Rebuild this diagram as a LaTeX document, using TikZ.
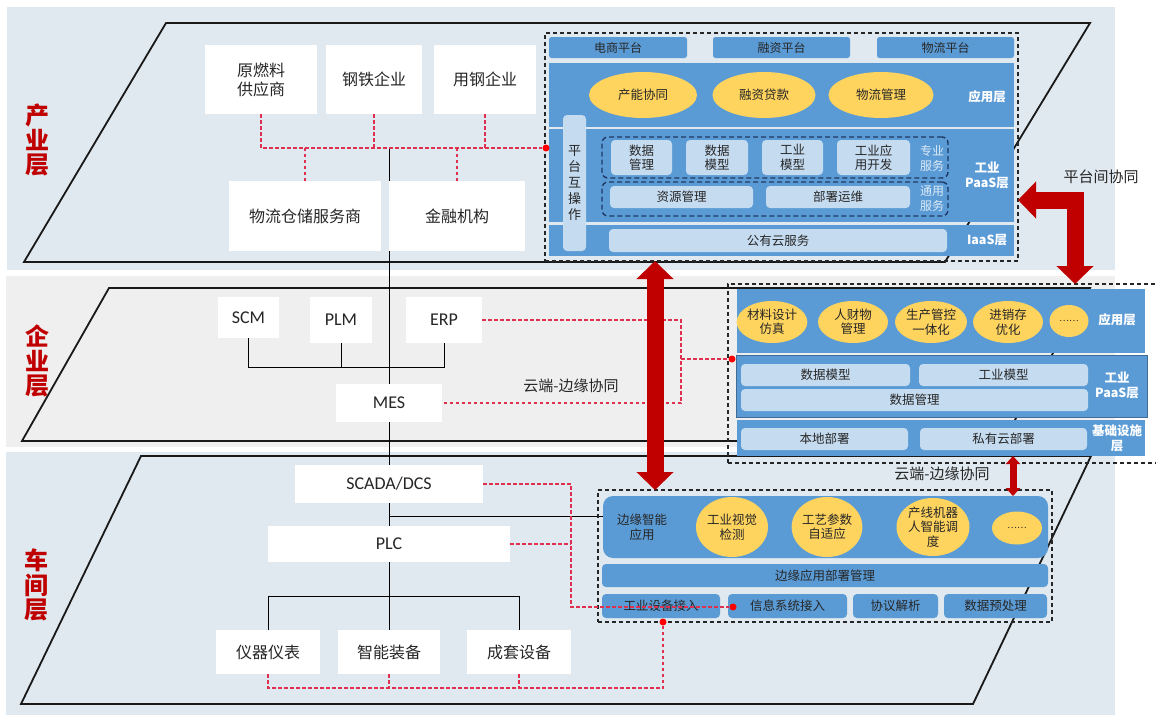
\documentclass[tikz,border=0pt]{standalone}
\usepackage{fontspec}
\setmainfont{Noto Sans CJK SC}
\newfontfamily\lat{Carlito}
\usetikzlibrary{arrows.meta,calc,shapes.geometric}
\pgfdeclarelayer{bgl}
\pgfdeclarelayer{lines}
\pgfsetlayers{bgl,lines,main}
\definecolor{bandblue}{HTML}{DFE9EF}
\definecolor{bandgray}{HTML}{EFEFEF}
\definecolor{pblue}{HTML}{5B9BD5}
\definecolor{lblue}{HTML}{C5DBF0}
\definecolor{ygold}{HTML}{FFD45E}
\definecolor{dred}{HTML}{C00000}
\definecolor{rdc}{HTML}{E03050}
\definecolor{navy}{HTML}{1F3864}
\definecolor{txt}{HTML}{262626}
\definecolor{svct}{HTML}{DDEBF7}
\newcommand\rbox[7]{\node[#6, minimum width={#4-#2}, minimum height={#5-#3}] (#1) at ({(#2+#4)/2},{(#3+#5)/2}) {#7};}
\tikzset{
  wbox/.style={fill=white, inner sep=0pt, outer sep=0pt, text=txt, align=center, font=\fontsize{16}{19}\selectfont},
  lbox/.style={wbox, font=\lat\fontsize{18}{20}\selectfont},
  tab/.style={fill=pblue, rounded corners=2.5, inner sep=0pt, outer sep=0pt, text=txt, font=\fontsize{12}{14}\selectfont},
  band/.style={fill=pblue, inner sep=0pt, outer sep=0pt, text=txt, align=center, font=\fontsize{12.5}{15}\selectfont},
  ell/.style={ellipse, fill=ygold, inner sep=0pt, outer sep=0pt, text=txt, align=center, font=\fontsize{12.5}{14.5}\selectfont},
  ibox/.style={fill=lblue, rounded corners=4, inner sep=0pt, outer sep=0pt, text=txt, align=center, font=\fontsize{12.5}{14.5}\selectfont},
  pillst/.style={ibox, font=\fontsize{13}{16}\selectfont},
  idash/.style={draw=navy, line width=1.4pt, dash pattern=on 5pt off 3pt, rounded corners=6, inner sep=0pt},
  dbox/.style={draw=black!85, line width=1.1pt, dash pattern=on 4pt off 3pt, inner sep=0pt, outer sep=0pt},
  lay/.style={text=white, align=center, font=\bfseries\fontsize{12.5}{15}\selectfont},
  svc/.style={text=svct, align=center, font=\fontsize{12}{15}\selectfont},
  ptxt/.style={text=txt, align=center, font=\fontsize{12.5}{15}\selectfont},
  laylab/.style={text=dred, align=center, font=\bfseries\fontsize{24}{24.5}\selectfont},
  note/.style={text=txt, font=\fontsize{15}{18}\selectfont},
  dot/.style={circle, fill=red, inner sep=0pt, minimum size=7pt},
  bl/.style={draw=black, line width=1pt},
  rd/.style={draw=rdc, line width=1.2pt, dash pattern=on 3.5pt off 2.5pt},
  par/.style={draw=black!90, line width=1.8pt},
  bigarr/.style={draw=dred, line width=17pt, {Triangle[width=36pt,length=18pt]}-{Triangle[width=36pt,length=18pt]}},
  smarr/.style={draw=dred, line width=7pt, {Triangle[width=14pt,length=8pt]}-{Triangle[width=14pt,length=8pt]}}
}
\begin{document}
\begin{tikzpicture}[x=1pt,y=-1pt]
\useasboundingbox (0,0) rectangle (1156,715);
\begin{pgfonlayer}{bgl}
  \fill[white] (0,0) rectangle (1156,715);
  \fill[bandblue] (7,7) rectangle (1115,270);
  \fill[bandgray] (6,276) rectangle (1115,447);
  \fill[bandblue] (6,452) rectangle (1115,715);
  \draw[par] (24,262) -- (166,23) -- (1090,23) -- (945,262) -- cycle;
  \draw[par] (22,441) -- (109,288) -- (1090,288) -- (1003,441) -- cycle;
  \draw[par] (21,704) -- (141,456) -- (1091,456) -- (973,704) -- cycle;
\end{pgfonlayer}

% layer labels
\node[laylab] (L1) at (37,140) {产\\业\\层};
\node[laylab] (L2) at (37,361) {企\\业\\层};
\node[laylab] (L3) at (36,585) {车\\间\\层};

% industry layer boxes
\rbox{ry}{205}{45}{317}{114}{wbox}{原燃料\\供应商}
\rbox{gt}{326}{45}{422}{114}{wbox}{钢铁企业}
\rbox{yg}{434}{45}{536}{114}{wbox}{用钢企业}
\rbox{wl}{229}{181}{381}{251}{wbox}{物流仓储服务商}
\rbox{jr}{389}{181}{525}{251}{wbox}{金融机构}

% enterprise layer boxes
\rbox{scm}{218}{297}{279}{338}{lbox}{SCM}
\rbox{plm}{310}{297}{372}{343}{lbox}{PLM}
\rbox{erp}{406}{297}{482}{343}{lbox}{ERP}
\rbox{mes}{336}{384}{442}{422}{lbox}{MES}

% workshop layer boxes
\rbox{scada}{295}{465}{483}{503}{lbox}{SCADA/DCS}
\rbox{plc}{268}{526}{510}{562}{lbox}{PLC}
\rbox{yq}{216}{630}{320}{674}{wbox}{仪器仪表}
\rbox{zn}{338}{630}{440}{674}{wbox}{智能装备}
\rbox{ct}{467}{630}{571}{674}{wbox}{成套设备}

% ===== top platform =====
\rbox{P1}{545}{33}{1018}{261}{dbox}{}
\rbox{t1}{549}{37}{687}{58}{tab}{电商平台}
\rbox{t2}{713}{37}{850}{58}{tab}{融资平台}
\rbox{t3}{877}{37}{1014}{58}{tab}{物流平台}
\rbox{b1}{549}{63}{1014}{127}{band}{}
\rbox{b2}{549}{129}{1014}{222}{band}{}
\rbox{b3}{549}{225}{1014}{256}{band}{}
\node[ell, minimum width=108, minimum height=46] (e1) at (643,95) {产能协同};
\node[ell, minimum width=103, minimum height=46] (e2) at (764,95) {融资贷款};
\node[ell, minimum width=105, minimum height=46] (e3) at (881,95) {物流管理};
\node[lay] (l1) at (987,97) {应用层};
\node[lay] (l2) at (987,175) {工业\\PaaS层};
\node[lay] (l3) at (987,240) {IaaS层};
\rbox{pill}{563}{115}{586}{251}{pillst}{平\\台\\互\\操\\作}
\rbox{zy}{602}{137}{948}{178}{idash}{}
\rbox{ty}{602}{182}{948}{216}{idash}{}
\rbox{s1}{611}{140}{672}{175}{ibox}{数据\\管理}
\rbox{s2}{686}{140}{748}{175}{ibox}{数据\\模型}
\rbox{s3}{762}{140}{823}{175}{ibox}{工业\\模型}
\rbox{s4}{837}{140}{910}{175}{ibox}{工业应\\用开发}
\rbox{s5}{610}{186}{753}{208}{ibox}{资源管理}
\rbox{s6}{766}{186}{910}{208}{ibox}{部署运维}
\node[svc] (v1) at (932,158) {专业\\服务};
\node[svc] (v2) at (932,199) {通用\\服务};
\rbox{s7}{609}{229}{947}{252}{ibox}{公有云服务}

% ===== middle platform =====
\rbox{P2}{728}{284}{1160}{463}{dbox}{}
\rbox{m1}{737}{289}{1145}{353}{band}{}
\rbox{m2}{736}{355}{1147}{417}{band, draw=pblue!70!black, line width=0.8pt}{}
\rbox{m3}{737}{420}{1145}{456}{band}{}
\node[ell, minimum width=60, minimum height=42] (f1) at (772,322) {材料设计\\仿真};
\node[ell, minimum width=70, minimum height=42] (f2) at (853,322) {人财物\\管理};
\node[ell, minimum width=72, minimum height=42] (f3) at (931,322) {生产管控\\一体化};
\node[ell, minimum width=70, minimum height=42] (f4) at (1008,322) {进销存\\优化};
\node[ell, minimum width=39, minimum height=32] (f5) at (1069,321) {\fontsize{9}{10}\selectfont ……};
\node[lay] (n1) at (1117,320) {应用层};
\node[lay] (n2) at (1117,385) {工业\\PaaS层};
\node[lay] (n3) at (1117,438) {基础设施\\层};
\rbox{mb1}{741}{364}{910}{386}{ibox}{数据模型}
\rbox{mb2}{919}{364}{1088}{386}{ibox}{工业模型}
\rbox{mb3}{741}{389}{1088}{411}{ibox}{数据管理}
\rbox{mb4}{741}{428}{908}{450}{ibox}{本地部署}
\rbox{mb5}{920}{428}{1087}{450}{ibox}{私有云部署}

% ===== bottom platform =====
\rbox{P3}{598}{490}{1052}{622}{dbox}{}
\rbox{eapp}{603}{496}{1048}{558}{band, rounded corners=10}{}
\node[ptxt] (etx) at (642,527) {边缘智能\\应用};
\node[ell, minimum width=72, minimum height=60] (g1) at (732,527) {工业视觉\\检测};
\node[ell, minimum width=68, minimum height=60] (g2) at (827,527) {工艺参数\\自适应};
\node[ell, minimum width=73, minimum height=58] (g3) at (933,527) {产线机器\\人智能调\\度};
\node[ell, minimum width=50, minimum height=33] (g4) at (1017,528) {\fontsize{9}{10}\selectfont ……};
\rbox{edm}{602}{564}{1048}{587}{band, rounded corners=4}{边缘应用部署管理}
\rbox{c1}{602}{594}{720}{618}{band, rounded corners=4}{工业设备接入}
\rbox{c2}{728}{594}{847}{618}{band, rounded corners=4}{信息系统接入}
\rbox{c3}{853}{594}{938}{618}{band, rounded corners=4}{协议解析}
\rbox{c4}{944}{594}{1047}{618}{band, rounded corners=4}{数据预处理}

% ===== black connectors (behind boxes) =====
\begin{pgfonlayer}{lines}
  \coordinate (topv) at (389,149);
  \draw[bl] (topv) -- (topv |- zn.north);
  \coordinate (tre) at (0,367);
  \draw[bl] (scm.south) |- (erp.south |- tre) -- (erp.south);
  \draw[bl] (plm.south) -- (plm.south |- tre);
  \coordinate (trb) at (0,596);
  \draw[bl] (yq.north) |- (ct.north |- trb) -- (ct.north);
  \coordinate (hb) at (389,516);
  \draw[bl] (hb) -- (hb -| eapp.west);
\end{pgfonlayer}

% ===== red dashed connectors =====
\node[dot] (dT) at (546,148) {};
\draw[rd] (ry.south) |- (dT);
\draw[rd] (gt.south) -- (gt.south |- dT);
\draw[rd] (yg.south) -- (yg.south |- dT);
\draw[rd] (wl.north) -- (wl.north |- dT);
\draw[rd] (jr.north) -- (jr.north |- dT);

\node[dot] (dM) at (732,359) {};
\coordinate (jm) at (681,359);
\draw[rd] (erp.east) -| (jm |- mes.east) -- (mes.east);
\draw[rd] (jm) -- (dM);

\node[dot] (dB2) at (733,607) {};
\node[dot] (dB1) at (663,622) {};
\coordinate (jb) at (571,607);
\draw[rd] (scada.east) -| (jb) -- (dB2);
\draw[rd] (plc.east) -- (plc.east -| jb);
\coordinate (jb2) at (663,688);
\draw[rd] (yq.south) |- (jb2) -- (dB1);
\draw[rd] (zn.south) -- (zn.south |- jb2);
\draw[rd] (ct.south) -- (ct.south |- jb2);

% ===== big arrows =====
\draw[bigarr] (P1.south -| 655,0) -- (P3.north -| 655,0);
\draw[bigarr] (P2.north -| 1075,0) |- (P1.east |- 0,200);
\draw[smarr] (m3.south -| 1013,0) -- (eapp.north -| 1013,0);

\node[note] (n_pt) at (1101,177) {平台间协同};
\node[note] (n_c1) at (571,386) {云端-边缘协同};
\node[note] (n_c2) at (942,474) {云端-边缘协同};
\end{tikzpicture}
\end{document}
